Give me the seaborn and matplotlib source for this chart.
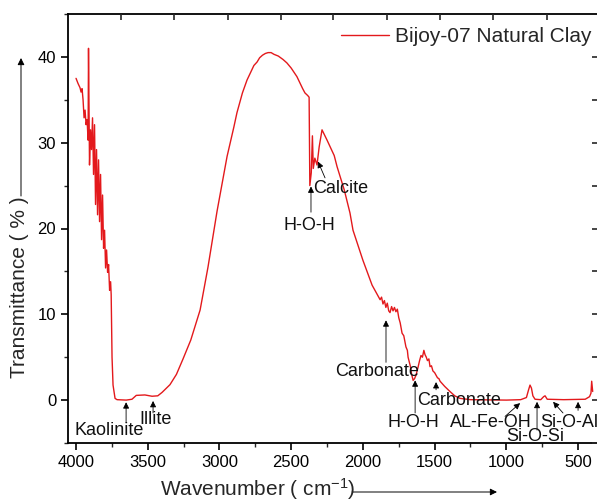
import numpy as np
import pandas as pd
import matplotlib
matplotlib.use("Agg")
import matplotlib.pyplot as plt
import seaborn as sns
from matplotlib.ticker import MultipleLocator

sns.set_theme(style="ticks")
plt.rcParams['font.family'] = ['Liberation Sans', 'DejaVu Sans']
plt.rcParams['mathtext.default'] = 'regular'

# --- spectrum (wavenumber cm-1, transmittance %) ---
wavenumber = [
    4000, 3986, 3972, 3965, 3958, 3951, 3944, 3937, 3930, 3923, 3916, 3913,
    3906, 3899, 3892, 3885, 3878, 3871, 3864, 3857, 3850, 3843, 3836, 3829,
    3822, 3815, 3808, 3801, 3794, 3787, 3780, 3773, 3766, 3759, 3755, 3749,
    3742, 3728, 3714, 3650, 3610, 3580, 3520, 3470, 3430, 3400, 3345, 3300,
    3254, 3200, 3170, 3135, 3110, 3080, 3050, 3017, 2980, 2947, 2900, 2878,
    2840, 2808, 2780, 2760, 2738, 2720, 2700, 2680, 2661, 2640, 2620, 2590,
    2557, 2530, 2500, 2460, 2420, 2404, 2385, 2375, 2370, 2360,
    2352, 2346, 2335, 2320, 2305, 2285, 2250, 2200, 2180, 2130, 2090, 2069,
    2000, 1936, 1880, 1870, 1860, 1850, 1840, 1830, 1820, 1811, 1800, 1790,
    1780, 1770, 1760, 1750, 1740, 1727, 1715, 1700, 1690, 1685, 1670, 1660,
    1650, 1640, 1630, 1616, 1605, 1595, 1585, 1575, 1567, 1558, 1550, 1540,
    1532, 1522, 1512, 1500, 1490, 1480, 1470, 1462, 1430, 1393, 1360, 1323,
    1250, 1000, 900, 860, 845, 835, 825, 815, 800, 760, 740, 730, 715, 600,
    450, 420, 410, 405, 398,
]
transmittance = [
    37.5, 36.9, 36.4, 35.9, 36.3, 35.0, 32.9, 33.8, 32.1, 32.7, 30.3, 41.0,
    27.4, 31.5, 29.2, 32.9, 26.3, 32.1, 22.8, 29.2, 21.6, 28.0, 20.8, 26.3,
    18.7, 23.9, 17.7, 19.8, 15.4, 17.5, 14.9, 15.8, 12.8, 13.8, 12.3, 5.0,
    1.75, 0.2, 0.05, 0.0, 0.1, 0.55, 0.6, 0.45, 0.5, 0.9, 1.8, 3.0,
    4.8, 7.0, 8.6, 10.5, 12.8, 15.5, 18.6, 22.0, 25.4, 28.4, 31.8, 33.5,
    35.8, 37.3, 38.3, 39.0, 39.4, 39.9, 40.2, 40.4, 40.5, 40.5, 40.3, 40.1,
    39.7, 39.3, 38.7, 37.7, 36.3, 35.8, 35.5, 35.3, 25.0, 26.5,
    30.8, 27.0, 28.2, 27.4, 29.5, 31.5, 30.3, 28.5, 27.2, 24.5, 21.8, 19.8,
    16.3, 13.4, 11.7, 12.0, 11.2, 11.6, 10.8, 11.3, 10.4, 10.2, 10.9, 10.4,
    10.8, 10.3, 10.6, 9.6, 9.0, 7.8, 7.5, 6.2, 5.8, 5.0, 4.0, 3.0,
    2.3, 2.5, 2.9, 3.8, 4.6, 5.2, 5.0, 5.8, 5.3, 5.0, 4.6, 4.8,
    3.9, 4.0, 3.4, 3.2, 2.9, 2.6, 2.5, 2.2, 1.6, 1.0, 0.5, 0.2,
    0.05, 0.0, 0.05, 0.3, 1.2, 1.75, 1.4, 0.5, 0.1, 0.05, 0.4, 0.5, 0.1, 0.05,
    0.1, 0.4, 0.8, 2.2, 1.0,
]

# band labels: text, text position, arrow tip, arrow tail
band_labels = ["Kaolinite", "Illite", "H-O-H", "Calcite", "Carbonate", "H-O-H",
               "Carbonate", "AL-Fe-OH", "Si-O-Si", "Si-O-Al", ""]
label_pos = [(4014, -3.5), (3561, -2.3), (2376, 20.4), (2348, 24.7), (1901, 3.3),
             (1650, -2.6), (1622, 0.0), (1392, -2.6), (800, -4.3), (762, -2.6), None]
arrow_tip = [(3651, -0.25), (3463, -0.1), (2362, 24.9), (2313, 27.8), (1839, 9.3),
             (1636, 2.3), (1490, 2.1), (904, -0.35), (786, -0.2), (674, -0.2), (500, -0.2)]
arrow_tail = [(3651, -2.6), (3463, -1.5), (2362, 21.9), (2264, 25.9), (1839, 4.4),
              (1636, -1.5), (1490, 1.2), (1009, -1.9), (786, -3.5), (605, -1.5), (500, -1.2)]
label_ha = ["left", "left", "center", "left", "center", "center", "left", "left",
            "center", "left", "left"]

df = pd.DataFrame({"Wavenumber": wavenumber, "Transmittance": transmittance})

W, H = 597, 501
fig = plt.figure(figsize=(W / 100, H / 100), dpi=100)
ax = fig.add_axes([68 / W, 1 - 443 / H, (599 - 68) / W, (443 - 14) / H])

sns.lineplot(data=df, x="Wavenumber", y="Transmittance", ax=ax, color="#e3191c",
             lw=1.0, sort=False, label="Bijoy-07 Natural Clay")

ax.set_xlim(4056, 354)
ax.set_ylim(-5, 45)
ax.set_xlabel("")
ax.set_ylabel("")
ax.set_xticks([4000, 3500, 3000, 2500, 2000, 1500, 1000, 500])
ax.set_yticks([0, 10, 20, 30, 40])
ax.xaxis.set_minor_locator(MultipleLocator(250))
ax.yaxis.set_minor_locator(MultipleLocator(5))
ax.tick_params(axis="both", which="major", direction="out", length=5, width=1.2,
               labelsize=12, color="black", labelcolor="black")
ax.tick_params(axis="both", which="minor", direction="out", length=3, width=1.0)
for s in ax.spines.values():
    s.set_linewidth(1.3)
    s.set_color("black")

# inward ticks on top and right
top = ax.twiny()
top.set_xlim(ax.get_xlim())
top.set_xticks([3686, 3317, 2940, 2571, 2208, 1832, 1462, 1093, 716])
top.set_xticklabels([])
top.tick_params(axis="x", direction="in", length=4, width=1.2)
right = ax.twinx()
right.set_ylim(ax.get_ylim())
right.set_yticks([-5, 0, 5, 10, 15, 20, 25, 30, 35, 40])
right.set_yticklabels([])
right.tick_params(axis="y", direction="in", length=5, width=1.2)
for a in (top, right):
    for s in a.spines.values():
        s.set_visible(False)
    a.grid(False)

for txt, pos, tip, tail, ha in zip(band_labels, label_pos, arrow_tip, arrow_tail, label_ha):
    ax.annotate("", xy=tip, xytext=tail,
                arrowprops=dict(arrowstyle="-|>", color="black", lw=0.6,
                                mutation_scale=9, shrinkA=0, shrinkB=0))
    if pos is not None:
        ax.text(pos[0], pos[1], txt, ha=ha, va="center", fontsize=13, color="#111111")

leg = ax.legend(loc="upper right", bbox_to_anchor=(592 / W, 1 - 27 / H),
                bbox_transform=fig.transFigure, frameon=False, fontsize=15,
                handlelength=2.3, handletextpad=0.3, borderaxespad=0, borderpad=0)

# axis titles with arrows, as in the original
fig.text(258 / W, 1 - 489 / H, "Wavenumber ( cm$^{-1}$)", ha="center", va="center",
         fontsize=15)
fig.text(20 / W, 1 - 287 / H, "Transmittance ( % )", ha="center", va="center",
         rotation=90, fontsize=15)
ax.annotate("", xy=(497 / W, 1 - 492 / H), xytext=(352 / W, 1 - 492 / H),
            xycoords="figure fraction", textcoords="figure fraction",
            arrowprops=dict(arrowstyle="-|>", color="black", lw=0.7,
                            mutation_scale=10, shrinkA=0, shrinkB=0))
ax.annotate("", xy=(21 / W, 1 - 58 / H), xytext=(21 / W, 1 - 196 / H),
            xycoords="figure fraction", textcoords="figure fraction",
            arrowprops=dict(arrowstyle="-|>", color="black", lw=0.7,
                            mutation_scale=10, shrinkA=0, shrinkB=0))

fig.savefig("out.png", dpi=100)
